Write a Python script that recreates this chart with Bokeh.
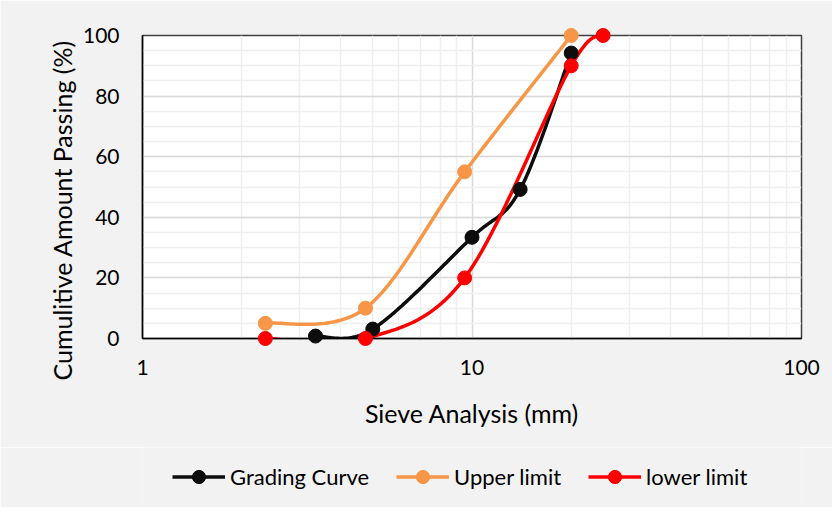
import numpy as np
from bokeh.plotting import figure
from bokeh.layouts import column
from bokeh.models import FixedTicker, PrintfTickFormatter, Legend, LegendItem, Title
from bokeh.embed import file_html
from bokeh.resources import INLINE

# ---- data ----
sieve_grading = [3.35, 5, 10, 14, 20]
pass_grading = [0.8, 3.1, 33.4, 49.2, 94.2]
sieve_upper = [2.36, 4.75, 9.5, 20]
pass_upper = [5, 10, 55, 100]
sieve_lower = [2.36, 4.75, 9.5, 20, 25]
pass_lower = [0, 0, 20, 90, 100]

x_ticks = [1, 10, 100]
x_minor = [2, 3, 4, 5, 6, 7, 8, 9, 20, 30, 40, 50, 60, 70, 80, 90]
y_ticks = [0, 20, 40, 60, 80, 100]
y_minor = list(range(0, 101, 5))

series_names = ["Grading Curve", "Upper limit", "lower limit"]
series_colors = ["#0D0D0D", "#F79646", "#FF0000"]

FONT = "Lato"
BG = "#F2F2F2"


def smooth(xs, ys, n=40):
    """Excel-like smoothed line: cubic Bezier (Catmull-Rom) in screen-linear space."""
    P = np.column_stack([np.log10(np.asarray(xs, float)), np.asarray(ys, float)])
    m = len(P)
    out = [P[0]]
    t = np.linspace(0, 1, n)[1:, None]
    for i in range(m - 1):
        p0 = P[i - 1] if i > 0 else P[i]
        p1, p2 = P[i], P[i + 1]
        p3 = P[i + 2] if i + 2 < m else P[i + 1]
        b1 = p1 + (p2 - p0) / 6.0
        b2 = p2 - (p3 - p1) / 6.0
        seg = (1 - t) ** 3 * p1 + 3 * (1 - t) ** 2 * t * b1 + 3 * (1 - t) * t ** 2 * b2 + t ** 3 * p2
        out.extend(seg)
    out = np.array(out)
    return 10 ** out[:, 0], out[:, 1]


W = 832
H_MAIN, H_LEG = 447, 60
p = figure(width=W, height=H_MAIN, x_axis_type="log", x_range=(1, 100), y_range=(0, 100),
           output_backend="svg", toolbar_location=None,
           min_border_left=142, min_border_right=31, min_border_top=35, min_border_bottom=109)
p.background_fill_color = "white"
p.border_fill_color = BG
p.outline_line_color = "#404040"
p.outline_line_width = 1.5

p.xaxis.ticker = FixedTicker(ticks=x_ticks, minor_ticks=x_minor)
p.yaxis.ticker = FixedTicker(ticks=y_ticks, minor_ticks=y_minor)
p.xaxis.formatter = PrintfTickFormatter(format="%d")

for g in (p.xgrid, p.ygrid):
    g.grid_line_color = "#D9D9D9"
    g.grid_line_width = 1.5
    g.minor_grid_line_color = "#EFEFEF"
    g.minor_grid_line_width = 1.5

for ax in (p.xaxis, p.yaxis):
    ax.axis_line_color = "black"
    ax.axis_line_width = 1.5
    ax.major_tick_line_color = None
    ax.minor_tick_line_color = None
    ax.major_tick_out = 0
    ax.minor_tick_out = 0
    ax.major_tick_in = 0
    ax.minor_tick_in = 0
    ax.major_label_text_font = FONT
    ax.major_label_text_font_size = "21px"
    ax.major_label_text_color = "black"

p.yaxis.major_label_standoff = 23
p.xaxis.major_label_standoff = 21

p.xaxis.axis_label = "Sieve Analysis (mm)"
p.xaxis.axis_label_text_font = FONT
p.xaxis.axis_label_text_font_size = "25px"
p.xaxis.axis_label_text_font_style = "normal"
p.xaxis.axis_label_text_color = "black"
p.xaxis.axis_label_standoff = 20

ytitle = Title(text="Cumulitive Amount Passing (%)", align="left", offset=-42,
               text_font=FONT, text_font_size="25px", text_font_style="normal",
               text_color="black", standoff=5)
p.add_layout(ytitle, "left")

for color, xs, ys in zip(series_colors,
                         [sieve_grading, sieve_upper, sieve_lower],
                         [pass_grading, pass_upper, pass_lower]):
    sx, sy = smooth(xs, ys)
    p.line(sx, sy, line_color=color, line_width=3.5)
    rp = p.scatter(xs, ys, size=14, fill_color=color, line_color=color)
    rp.level = "overlay"

# ---- legend strip below the chart (its own glyphs lie outside its view) ----
q = figure(width=W, height=H_LEG, x_range=(0, 1), y_range=(0, 1),
           output_backend="svg", toolbar_location=None,
           x_axis_location=None, y_axis_location=None, min_border=0)
q.grid.visible = False
q.outline_line_color = None
q.background_fill_color = BG
q.border_fill_color = BG

items = []
for name, color, xs, ys in zip(series_names, series_colors,
                               [sieve_grading, sieve_upper, sieve_lower],
                               [pass_grading, pass_upper, pass_lower]):
    rl = q.line(xs, ys, line_color=color, line_width=3.5)
    rp = q.scatter(xs, ys, size=14, fill_color=color, line_color=color)
    items.append(LegendItem(label=name, renderers=[rl, rp]))

legend = Legend(items=items, orientation="horizontal", location=(30, 14),
                glyph_width=53, glyph_height=33, label_standoff=5, spacing=27,
                padding=0, margin=0, border_line_color=None, background_fill_alpha=0,
                label_text_font=FONT, label_text_font_size="22px", label_text_color="black")
q.add_layout(legend, "center")

layout = column(p, q, spacing=0)
open("out.html", "w").write(file_html(layout, INLINE))
